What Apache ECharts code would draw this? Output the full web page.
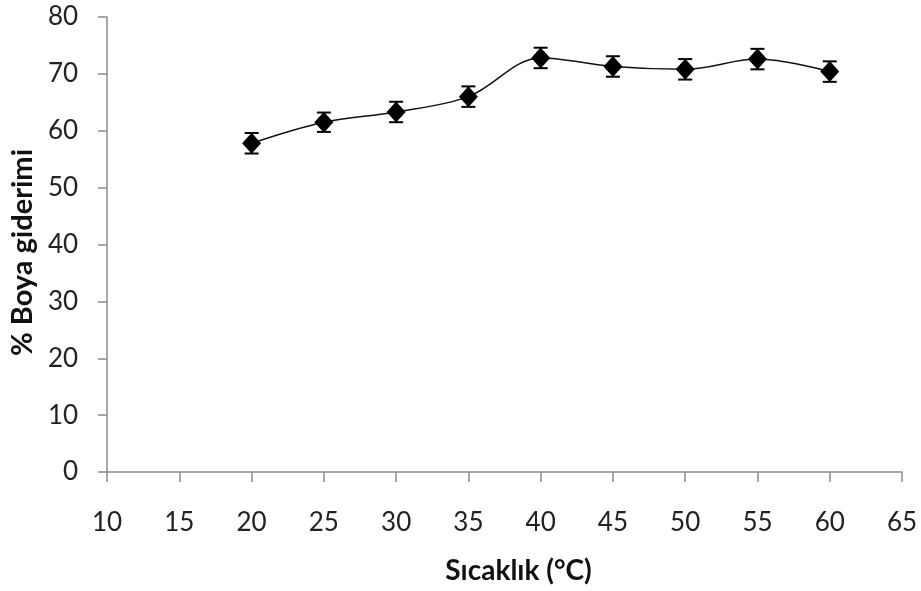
<!DOCTYPE html>
<html><head><meta charset="utf-8">
<script src="https://cdn.jsdelivr.net/npm/echarts@6/dist/echarts.min.js"></script>
<style>html,body{margin:0;padding:0;background:#fff}#c{width:921px;height:591px}</style>
</head><body><div id="c"></div>
<script>
var temps = [20, 25, 30, 35, 40, 45, 50, 55, 60];
var removal = [57.8, 61.5, 63.3, 66.0, 72.8, 71.3, 70.8, 72.6, 70.4];
var errors = [1.8, 1.7, 1.8, 1.8, 1.8, 1.8, 1.8, 1.8, 1.8];
var xTicks = [10, 15, 20, 25, 30, 35, 40, 45, 50, 55, 60, 65];
var yTicks = [0, 10, 20, 30, 40, 50, 60, 70, 80];

var pts = temps.map(function (t, i) { return [t, removal[i]]; });
var errData = temps.map(function (t, i) { return [t, removal[i] - errors[i], removal[i] + errors[i]]; });

var chart = echarts.init(document.getElementById('c'));
var font = 'Lato, "Open Sans", sans-serif';
chart.setOption({
  animation: false,
  backgroundColor: '#fff',
  grid: { left: 104, right: 19, top: 17, bottom: 119, containLabel: false },
  xAxis: {
    type: 'value', min: xTicks[0], max: xTicks[xTicks.length - 1], interval: 5,
    name: 'Sıcaklık (°C)', nameLocation: 'middle', nameGap: 99,
    nameTextStyle: { fontFamily: font, fontWeight: 'bold', fontSize: 28, color: '#111', verticalAlign: 'middle', padding: [0, 0, 0, 28] },
    axisLine: { lineStyle: { color: '#8c8c8c', width: 1.5 } },
    axisTick: { show: true, length: 10, inside: false, lineStyle: { color: '#8c8c8c', width: 1.5 } },
    axisLabel: { fontFamily: font, fontSize: 26, color: '#222', margin: 38 },
    splitLine: { show: false }
  },
  yAxis: {
    type: 'value', min: yTicks[0], max: yTicks[yTicks.length - 1], interval: 10,
    name: '% Boya giderimi', nameLocation: 'middle', nameGap: 81, nameRotate: 90,
    nameTextStyle: { fontFamily: font, fontWeight: 'bold', fontSize: 29, color: '#111', verticalAlign: 'middle', padding: [0, 16, 0, 0] },
    axisLine: { show: true, lineStyle: { color: '#8c8c8c', width: 1.5 } },
    axisTick: { show: true, length: 9, inside: false, lineStyle: { color: '#8c8c8c', width: 1.5 } },
    axisLabel: { fontFamily: font, fontSize: 26, color: '#222', margin: 29 },
    splitLine: { show: false }
  },
  series: [
    {
      type: 'line', data: pts, smooth: 0.35,
      symbol: 'diamond', symbolSize: [19, 21],
      itemStyle: { color: '#000' },
      lineStyle: { color: '#111', width: 1.5 },
      z: 3
    },
    {
      type: 'custom', data: errData, z: 4,
      renderItem: function (params, api) {
        var x = api.value(0);
        var lo = api.coord([x, api.value(1)]);
        var hi = api.coord([x, api.value(2)]);
        var w = 7;
        var st = { stroke: '#000', lineWidth: 2 };
        return { type: 'group', children: [
          { type: 'line', shape: { x1: lo[0], y1: lo[1], x2: hi[0], y2: hi[1] }, style: st },
          { type: 'line', shape: { x1: lo[0] - w, y1: lo[1], x2: lo[0] + w, y2: lo[1] }, style: st },
          { type: 'line', shape: { x1: hi[0] - w, y1: hi[1], x2: hi[0] + w, y2: hi[1] }, style: st }
        ] };
      }
    }
  ]
});
</script></body></html>
